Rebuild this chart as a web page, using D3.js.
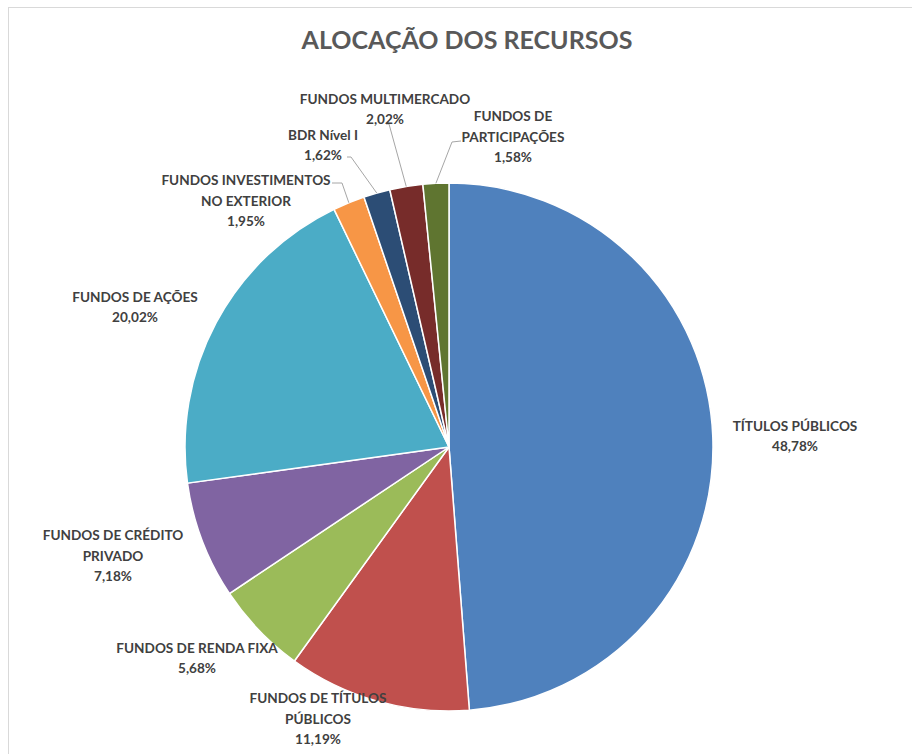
<!DOCTYPE html>
<html>
<head>
<meta charset="utf-8">
<script src="https://cdn.jsdelivr.net/npm/d3@7"></script>
<style>
  html, body { margin: 0; padding: 0; background: #ffffff; }
  svg { display: block; }
</style>
</head>
<body>
<svg id="chart" width="912" height="754"></svg>
<script>
// ---- data ----
const categories = [
  "TÍTULOS PÚBLICOS",
  "FUNDOS DE TÍTULOS PÚBLICOS",
  "FUNDOS DE RENDA FIXA",
  "FUNDOS DE CRÉDITO PRIVADO",
  "FUNDOS DE AÇÕES",
  "FUNDOS INVESTIMENTOS NO EXTERIOR",
  "BDR Nível I",
  "FUNDOS MULTIMERCADO",
  "FUNDOS DE PARTICIPAÇÕES"
];
const values = [48.78, 11.19, 5.68, 7.18, 20.02, 1.95, 1.62, 2.02, 1.58];
const labelLines = [
  ["TÍTULOS PÚBLICOS"],
  ["FUNDOS DE TÍTULOS", "PÚBLICOS"],
  ["FUNDOS DE RENDA FIXA"],
  ["FUNDOS DE CRÉDITO", "PRIVADO"],
  ["FUNDOS DE AÇÕES"],
  ["FUNDOS INVESTIMENTOS", "NO EXTERIOR"],
  ["BDR Nível I"],
  ["FUNDOS MULTIMERCADO"],
  ["FUNDOS DE", "PARTICIPAÇÕES"]
];
const colors = ["#4F81BD", "#C0504D", "#9BBB59", "#8064A2", "#4BACC6",
                "#F79646", "#2C4D75", "#772C2A", "#5F7530"];
const title = "ALOCAÇÃO DOS RECURSOS";

// ---- layout (label placement, relative to pie centre) ----
const cx = 449, cy = 447, R = 264;
const labelPos = [
  {x: 346, y: -11},
  {x: -131, y: 272},
  {x: -252, y: 211},
  {x: -336, y: 109},
  {x: -314, y: -140},
  {x: -203, y: -246, leader: [{x: -107, y: -264}, {x: -117, y: -264}]},
  {x: -126, y: -302, leader: [{x: -98, y: -290}, {x: -102, y: -290}]},
  {x: -64, y: -338, leader: [{x: -60, y: -323}, {x: -63, y: -323}]},
  {x: 64, y: -310, leader: [{x: 3, y: -305}, {x: 12, y: -306}]}
];

const fmt = v => v.toFixed(2).replace(".", ",") + "%";

const svg = d3.select("#chart");

// chart border
svg.append("rect")
  .attr("x", 8.5).attr("y", 7.5)
  .attr("width", 930).attr("height", 760)
  .attr("fill", "#ffffff")
  .attr("stroke", "#d9d9d9").attr("stroke-width", 1);

// title
svg.append("text")
  .attr("x", 467).attr("y", 49)
  .attr("text-anchor", "middle")
  .attr("font-family", "Lato, 'Open Sans', sans-serif")
  .attr("font-weight", "bold")
  .attr("font-size", 25)
  .attr("fill", "#595959")
  .text(title);

const data = categories.map((c, i) => ({name: c, value: values[i], i}));
const pie = d3.pie().sort(null).value(d => d.value);
const arcs = pie(data);
const arc = d3.arc().innerRadius(0).outerRadius(R);

const g = svg.append("g").attr("transform", `translate(${cx},${cy})`);

g.selectAll("path.slice")
  .data(arcs)
  .enter().append("path")
  .attr("class", "slice")
  .attr("d", arc)
  .attr("fill", d => colors[d.data.i])
  .attr("stroke", "#ffffff")
  .attr("stroke-width", 1.5)
  .attr("stroke-linejoin", "round");

// leader lines: arc edge -> elbow -> label end
arcs.forEach(a => {
  const lp = labelPos[a.data.i];
  if (!lp.leader) return;
  const mid = (a.startAngle + a.endAngle) / 2;
  const p0 = [R * Math.sin(mid), -R * Math.cos(mid)];
  const pts = [p0, [lp.leader[0].x, lp.leader[0].y], [lp.leader[1].x, lp.leader[1].y]];
  g.append("path")
    .attr("d", d3.line()(pts))
    .attr("fill", "none")
    .attr("stroke", "#a6a6a6")
    .attr("stroke-width", 1);
});

// labels
arcs.forEach(a => {
  const i = a.data.i;
  const lp = labelPos[i];
  const lines = labelLines[i].concat([fmt(values[i])]);
  const lh = 20.5;
  const t = g.append("text")
    .attr("text-anchor", "middle")
    .attr("font-family", "Lato, 'Open Sans', sans-serif")
    .attr("font-weight", "bold")
    .attr("font-size", 13.6)
    .attr("fill", "#404040");
  const y0 = lp.y - (lines.length - 1) * lh / 2;
  lines.forEach((ln, k) => {
    t.append("tspan")
      .attr("x", lp.x)
      .attr("y", y0 + k * lh)
      .attr("dy", "0.35em")
      .text(ln);
  });
});
</script>
</body>
</html>
